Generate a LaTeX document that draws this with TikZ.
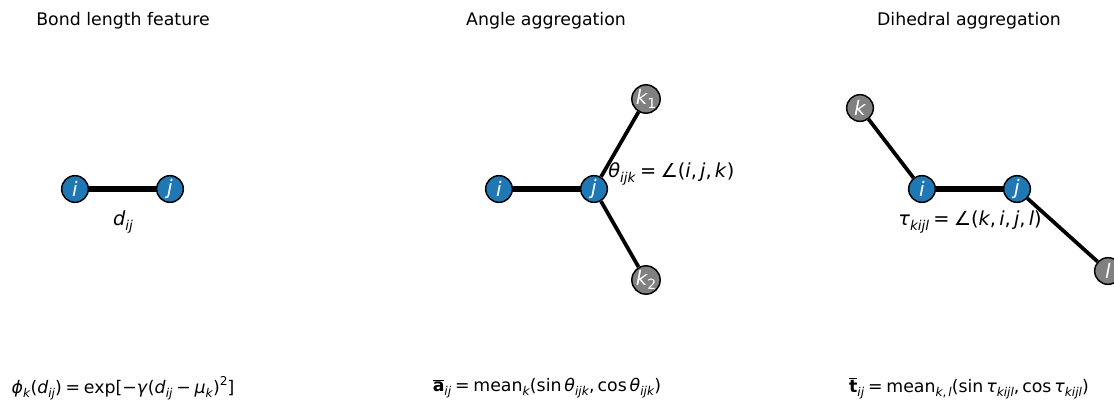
\documentclass[tikz,border=0pt]{standalone}
\usepackage{fontspec}
\setmainfont{DejaVu Sans}
\usetikzlibrary{positioning}
\definecolor{tabblue}{HTML}{1F77B4}
\tikzset{
    atom/.style={
        circle,
        draw=black,
        line width=1.1pt,
        minimum size=20pt,
        inner sep=0pt,
        text=white,
        font=\fontsize{15}{15}\selectfont\itshape
    },
    atom_c/.style={atom, fill=tabblue},
    atom_n/.style={atom, fill=gray},
    bond/.style={line width=5.2pt},
    side_bond/.style={line width=2.8pt},
    panel_title/.style={font=\fontsize{13}{15}\selectfont},
    geo_label/.style={font=\fontsize{14.5}{16}\selectfont},
    eq_label/.style={font=\fontsize{13}{15}\selectfont}
}
\makeatletter
\newcommand{\sub}[1]{\raisebox{-0.22em}{\fontsize{\fpeval{0.7*\f@size}}{1}\selectfont #1}}
\newcommand{\sups}[1]{\raisebox{0.45em}{\fontsize{\fpeval{0.7*\f@size}}{1}\selectfont #1}}
\makeatother
\newcommand{\eqsp}{\hspace{0.22em}}
\newcommand{\barvec}[1]{\mbox{$\overline{\mbox{\textbf{#1}}}$}}

\begin{document}
\begin{tikzpicture}[x=0.75pt, y=-0.75pt]
    \clip (0, 0) rectangle (1114, 400);

    % Panel 1 : bond length
    \node[panel_title] (t1) at (123, 21) {Bond length feature};
    \node[atom_c] (i1) at (75, 189) {i};
    \node[atom_c] (j1) at (170, 189) {j};
    \draw[bond] (i1) -- (j1);
    \node[geo_label] (d1) at (123, 222) {\textit{d}\sub{\textit{ij}}};
    \node[eq_label] (e1) at (123, 388) {\textit{ϕ}\sub{\textit{k}}(\textit{d}\sub{\textit{ij}})\eqsp=\eqsp exp[−\textit{γ}(\textit{d}\sub{\textit{ij}}\eqsp−\eqsp\textit{μ}\sub{\textit{k}})\sups{2}]};

    % Panel 2 : angle aggregation
    \node[panel_title] (t2) at (546, 21) {Angle aggregation};
    \node[atom_c] (i2) at (499, 189) {i};
    \node[atom_c] (j2) at (594, 189) {j};
    \node[atom_n] (k21) at (646, 99) {k\sub{\upshape 1}};
    \node[atom_n] (k22) at (646, 280) {k\sub{\upshape 2}};
    \draw[bond] (i2) -- (j2);
    \draw[side_bond] (j2) -- (k21);
    \draw[side_bond] (j2) -- (k22);
    \node[geo_label, anchor=west, inner sep=0pt] (a2) at (608, 174) {\textit{θ}\sub{\textit{ijk}}\eqsp=\eqsp∠(\textit{i},\thinspace\textit{j},\thinspace\textit{k})};
    \node[eq_label] (e2) at (547, 388) {\barvec{a}\sub{\textit{ij}}\eqsp=\eqsp mean\sub{\textit{k}}(sin\thinspace\textit{θ}\sub{\textit{ijk}},\thinspace cos\thinspace\textit{θ}\sub{\textit{ijk}})};

    % Panel 3 : dihedral aggregation
    \node[panel_title] (t3) at (969, 21) {Dihedral aggregation};
    \node[atom_n] (k3) at (860, 108) {k};
    \node[atom_c] (i3) at (922, 189) {i};
    \node[atom_c] (j3) at (1017, 189) {j};
    \node[atom_n] (l3) at (1108, 271) {l};
    \draw[side_bond] (k3) -- (i3);
    \draw[bond] (i3) -- (j3);
    \draw[side_bond] (j3) -- (l3);
    \node[geo_label] (a3) at (970, 222) {\textit{τ}\sub{\textit{kijl}}\eqsp=\eqsp∠(\textit{k},\thinspace\textit{i},\thinspace\textit{j},\thinspace\textit{l})};
    \node[eq_label] (e3) at (969, 388) {\barvec{t}\sub{\textit{ij}}\eqsp=\eqsp mean\sub{\textit{k},\thinspace\textit{l}}(sin\thinspace\textit{τ}\sub{\textit{kijl}},\thinspace cos\thinspace\textit{τ}\sub{\textit{kijl}})};
\end{tikzpicture}
\end{document}
